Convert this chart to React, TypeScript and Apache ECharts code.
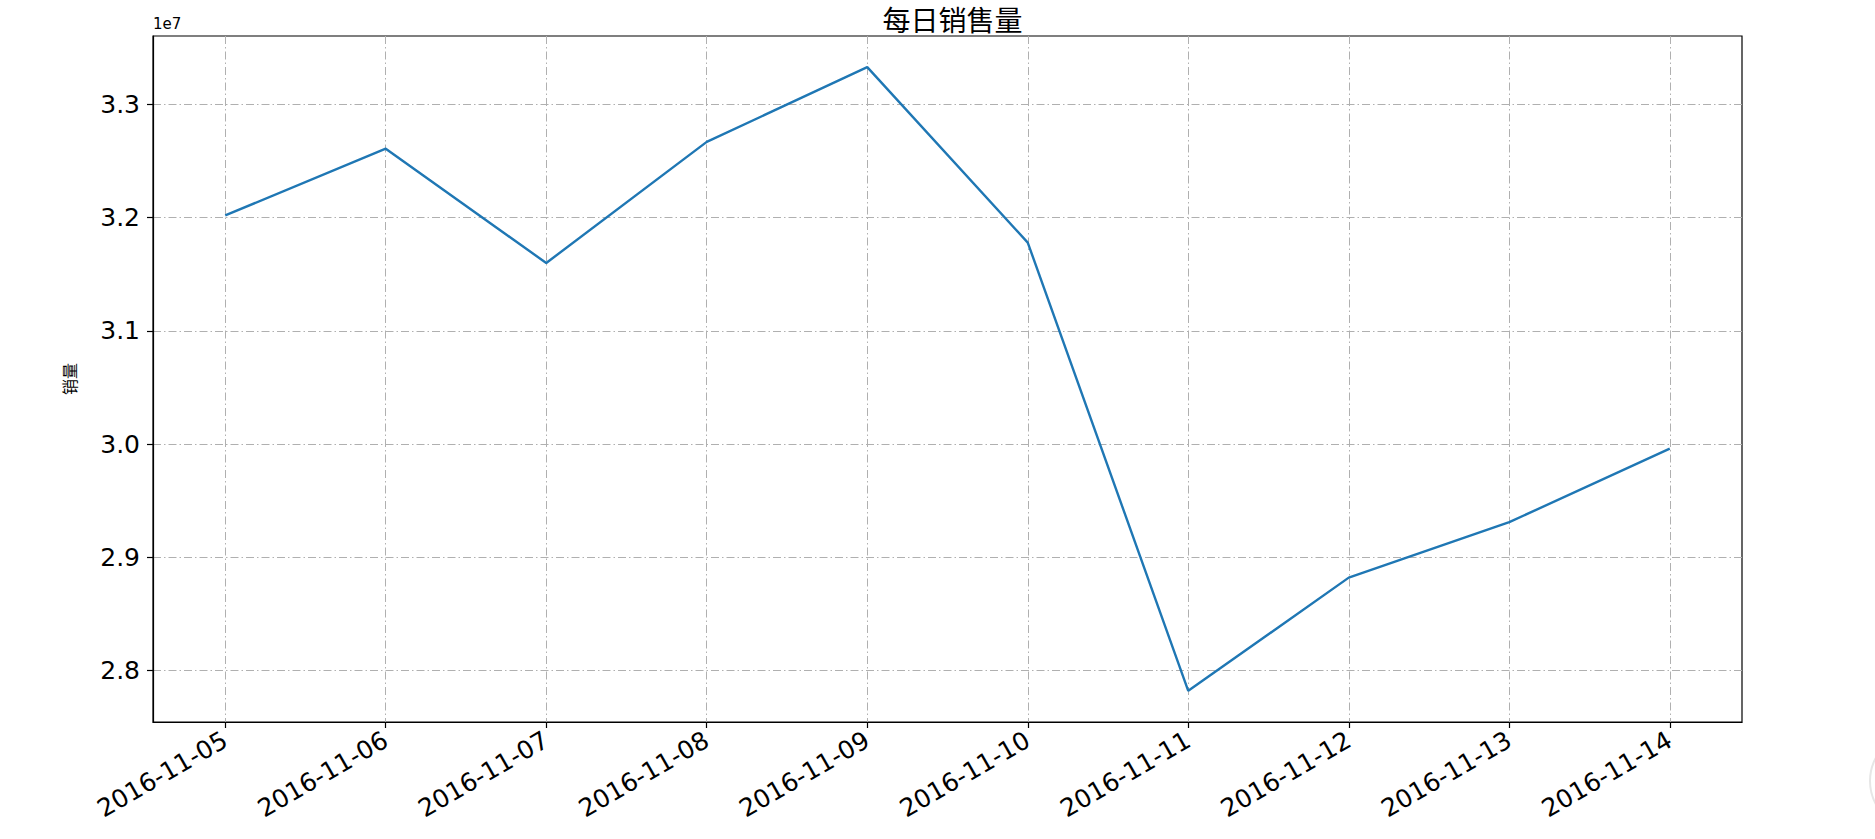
import React, { useEffect, useRef } from "react";
import * as echarts from "echarts";

const dates = [
  "2016-11-05", "2016-11-06", "2016-11-07", "2016-11-08", "2016-11-09",
  "2016-11-10", "2016-11-11", "2016-11-12", "2016-11-13", "2016-11-14",
];
const sales = [
  32020000, 32610000, 31600000, 32670000, 33330000,
  31780000, 27820000, 28820000, 29310000, 29960000,
];
const yTicks = [28000000, 29000000, 30000000, 31000000, 32000000, 33000000];
const title = "每日销售量";
const yName = "销量";

const FONT = "'Noto Sans CJK SC', 'Noto Sans', sans-serif";
const NUMFONT = "'DejaVu Sans', 'Noto Sans', sans-serif";

export default function App() {
  const ref = useRef<HTMLDivElement>(null);
  useEffect(() => {
    if (!ref.current) return;
    const chart = echarts.init(ref.current, null, { renderer: "svg" });
    const dmin = Math.min(...sales);
    const dmax = Math.max(...sales);
    const pad = (dmax - dmin) * 0.05;
    const xIdx = dates.map((_, i) => i);
    const xPad = (dates.length - 1) * 0.05;
    const gridLine = { color: "#b0b0b0", width: 1, type: [8, 3, 1.5, 3] as any };
    chart.setOption({
      animation: false,
      backgroundColor: "#ffffff",
      title: {
        text: title,
        left: 947.5,
        top: 0,
        textAlign: "center",
        textStyle: { fontFamily: FONT, fontSize: 28, fontWeight: "normal", color: "#000" },
      },
      graphic: [
        {
          type: "text",
          x: 153,
          y: 31,
          style: { text: "1e7", fill: "#000", font: `15px ${NUMFONT}`, textVerticalAlign: "bottom" },
        },
        {
          type: "circle",
          shape: { cx: 1919, cy: 781, r: 49 },
          style: { fill: "#ffffff", stroke: "#e6e6e6", lineWidth: 2 },
        },
      ],
      grid: {
        left: 153,
        right: 133,
        top: 36,
        bottom: 117,
        show: true,
        borderColor: "#000",
        borderWidth: 1.2,
        backgroundColor: "transparent",
      },
      xAxis: {
        type: "value",
        min: -xPad,
        max: dates.length - 1 + xPad,
        axisLine: { show: true, onZero: false, lineStyle: { color: "#000", width: 1.2 } },
        axisTick: { show: true, length: 6, customValues: xIdx, lineStyle: { color: "#000", width: 1.2 } },
        axisLabel: {
          customValues: xIdx,
          rotate: 30,
          margin: 16,
          formatter: (v: number) => dates[Math.round(v)] ?? "",
          fontFamily: NUMFONT,
          fontSize: 25,
          color: "#000",
        },
        splitLine: { show: true, lineStyle: gridLine },
      },
      yAxis: {
        type: "value",
        min: dmin - pad,
        max: dmax + pad,
        name: yName,
        nameLocation: "middle",
        nameRotate: 90,
        nameGap: 76,
        nameTextStyle: { fontFamily: FONT, fontSize: 16, color: "#000" },
        axisLine: { show: true, onZero: false, lineStyle: { color: "#000", width: 1.2 } },
        axisTick: { show: true, length: 6, customValues: yTicks, lineStyle: { color: "#000", width: 1.2 } },
        axisLabel: {
          customValues: yTicks,
          margin: 13,
          formatter: (v: number) => (v / 1e7).toFixed(1),
          fontFamily: NUMFONT,
          fontSize: 25,
          color: "#000",
        },
        splitLine: { show: true, lineStyle: gridLine },
      },
      series: [
        {
          type: "line",
          data: sales.map((v, i) => [i, v]),
          showSymbol: false,
          symbol: "none",
          lineStyle: { color: "#1f77b4", width: 2.4 },
          itemStyle: { color: "#1f77b4" },
        },
      ],
    });
    return () => chart.dispose();
  }, []);
  return (
    <div
      ref={ref}
      style={{ position: "fixed", left: 0, top: 0, width: 1875, height: 839, background: "#fff" }}
    />
  );
}
